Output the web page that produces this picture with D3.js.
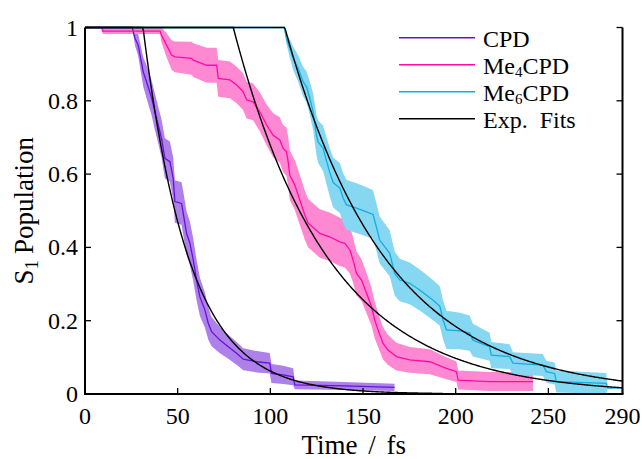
<!DOCTYPE html>
<html><head><meta charset="utf-8">
<script src="https://cdn.jsdelivr.net/npm/d3@7"></script>
<style>
body{margin:0;background:#fff}
svg text{font-family:"Liberation Serif","Times New Roman",serif;fill:#000}
</style>
</head><body>
<svg id="chart" width="642" height="459"></svg>
<script>
// ---------- data ----------
const xTicks = [0, 50, 100, 150, 200, 250, 290];
const yTicks = [0, 0.2, 0.4, 0.6, 0.8, 1];
const yTickLabels = ["0", "0.2", "0.4", "0.6", "0.8", "1"];
const seriesNames = ["CPD", "Me4CPD", "Me6CPD"];

const cpdTime = [0,25.5,27,28.7,31.4,33.2,36,37.7,39.5,41.3,43.1,45.8,47.6,48.5,52.1,53,54.8,56.6,58.4,60.2,62,64.7,66.5,68.3,72.8,77.3,81.8,85.4,92.6,99.7,100.6,106.9,112.3,113.2,140,167];
const cpdMean = [1,1,0.97,0.952,0.879,0.852,0.807,0.77,0.734,0.697,0.643,0.634,0.588,0.525,0.52,0.493,0.438,0.411,0.366,0.311,0.265,0.229,0.193,0.17,0.147,0.129,0.111,0.095,0.088,0.084,0.056,0.052,0.047,0.025,0.022,0.018];
const cpdErr  = [0,0,0.02,0.03,0.04,0.045,0.048,0.05,0.05,0.052,0.055,0.055,0.057,0.058,0.058,0.06,0.06,0.06,0.058,0.055,0.052,0.048,0.044,0.04,0.036,0.033,0.031,0.03,0.029,0.028,0.026,0.025,0.023,0.012,0.011,0.01];

const me4Time = [0,9,9.5,40.5,41.3,44,46.7,48.5,57.5,58.4,65.6,71,71.9,78.2,81.8,85.3,87.2,90.7,94.3,98,101.5,105.1,106.9,108.7,109.6,110.5,113.2,115,116.8,118.6,120.4,126.7,132,137.5,140.2,142.9,144.6,146.5,149.2,151.9,154.6,156.3,158.1,160.8,163.5,168,175.2,186,195,200.4,201.3,218.3,241.7];
const me4Mean = [1,1,0.99,0.99,0.979,0.952,0.925,0.92,0.916,0.911,0.897,0.897,0.861,0.857,0.843,0.825,0.802,0.797,0.77,0.734,0.706,0.693,0.67,0.661,0.634,0.597,0.57,0.543,0.516,0.488,0.466,0.438,0.429,0.415,0.411,0.393,0.366,0.329,0.311,0.275,0.238,0.202,0.175,0.138,0.12,0.102,0.093,0.088,0.07,0.061,0.038,0.034,0.034];
const me4Err  = [0,0,0.008,0.008,0.02,0.033,0.04,0.042,0.045,0.046,0.048,0.048,0.05,0.05,0.05,0.05,0.05,0.05,0.053,0.056,0.06,0.062,0.064,0.066,0.068,0.068,0.068,0.068,0.068,0.067,0.066,0.066,0.066,0.066,0.066,0.064,0.062,0.06,0.057,0.055,0.052,0.05,0.047,0.044,0.041,0.038,0.035,0.034,0.03,0.028,0.026,0.026,0.026];

const me6Time = [0,107.5,108.7,110.5,112.3,115,117.7,119.5,121.3,123.1,124.9,125.8,128.5,130.3,132.1,133.9,137.5,139.3,141.1,146.5,151.9,155.4,157.2,159,164.4,167.1,169.8,175.2,180.6,187.8,191.4,193.2,195,202.2,207.5,209.3,218.3,219.2,229.1,230.9,247,248.9,253.4,254.3,281.2,282.1,290];
const me6Mean = [1,1,0.97,0.943,0.916,0.888,0.852,0.838,0.807,0.77,0.706,0.688,0.67,0.636,0.604,0.577,0.562,0.534,0.516,0.507,0.497,0.49,0.456,0.42,0.384,0.329,0.311,0.302,0.284,0.256,0.24,0.202,0.175,0.172,0.166,0.147,0.129,0.106,0.102,0.084,0.079,0.061,0.056,0.034,0.029,0.016,0.016];
const me6Err  = [0,0,0.015,0.025,0.032,0.036,0.04,0.042,0.046,0.05,0.055,0.058,0.062,0.064,0.066,0.068,0.068,0.068,0.068,0.068,0.067,0.066,0.065,0.064,0.063,0.06,0.058,0.057,0.056,0.055,0.054,0.053,0.052,0.05,0.048,0.045,0.038,0.036,0.034,0.03,0.03,0.03,0.03,0.03,0.028,0,0];

// exponential fit parameters (onset / fs, time constant / fs, last time drawn / fs)
const fitOnset = [31.3, 80, 107.8];
const fitTau   = [24.8, 51.5, 54.5];
const fitEnd   = [193, 290, 290];

// ---------- style ----------
const lineColors = ["#6a10d6", "#ff0aa8", "#12aee0"];
const bandColors = ["#ae80ea", "#ff88d2", "#86d7f1"];

const svg = d3.select("#chart");
const x = d3.scaleLinear().domain([0, 290]).range([85, 622.5]);
const y = d3.scaleLinear().domain([0, 1]).range([394, 27.5]);

const series = [
  {t: cpdTime, m: cpdMean, e: cpdErr},
  {t: me4Time, m: me4Mean, e: me4Err},
  {t: me6Time, m: me6Mean, e: me6Err}
].map(s => s.t.map((t, i) => ({t, m: s.m[i], lo: Math.max(0, s.m[i] - s.e[i]), hi: Math.min(1, s.m[i] + s.e[i])})));

const area = d3.area().x(d => x(d.t)).y0(d => y(d.lo)).y1(d => y(d.hi));
const line = d3.line().x(d => x(d.t)).y(d => y(d.m));

series.forEach((s, i) => {
  svg.append("path").attr("d", area(s)).attr("fill", bandColors[i]).attr("stroke", "none");
});
series.forEach((s, i) => {
  svg.append("path").attr("d", line(s)).attr("fill", "none")
    .attr("stroke", lineColors[i]).attr("stroke-width", 1.3);
});
const fitLine = d3.line().x(d => x(d[0])).y(d => y(d[1]));
fitOnset.forEach((t0, i) => {
  const pts = d3.range(0, fitEnd[i] + 0.001, 0.5).map(t => [t, t < t0 ? 1 : Math.exp(-(t - t0) / fitTau[i])]);
  svg.append("path").attr("d", fitLine(pts)).attr("fill", "none")
    .attr("stroke", "#000").attr("stroke-width", 1.4);
});

// axes
const axG = svg.append("g");
axG.append("line").attr("x1", x(0)).attr("x2", x(0)).attr("y1", y(1)).attr("y2", y(0)).attr("stroke", "#000").attr("stroke-width", 2);
axG.append("line").attr("x1", x(290)).attr("x2", x(290)).attr("y1", y(1)).attr("y2", y(0)).attr("stroke", "#000").attr("stroke-width", 2);
axG.append("line").attr("x1", x(0) - 1).attr("x2", x(290) + 1).attr("y1", y(0)).attr("y2", y(0)).attr("stroke", "#000").attr("stroke-width", 2.2);

xTicks.forEach(v => {
  axG.append("line").attr("x1", x(v)).attr("x2", x(v)).attr("y1", y(0)).attr("y2", y(0) - 6).attr("stroke", "#000").attr("stroke-width", 1.3);
  axG.append("text").attr("x", x(v)).attr("y", 424).attr("text-anchor", "middle").attr("font-size", 24).text(v);
});
yTicks.forEach((v, i) => {
  axG.append("line").attr("x1", x(0)).attr("x2", x(0) + 6).attr("y1", y(v)).attr("y2", y(v)).attr("stroke", "#000").attr("stroke-width", 1.3);
  axG.append("line").attr("x1", x(290)).attr("x2", x(290) - 6).attr("y1", y(v)).attr("y2", y(v)).attr("stroke", "#000").attr("stroke-width", 1.3);
  axG.append("text").attr("x", 78).attr("y", y(v) + 8).attr("text-anchor", "end").attr("font-size", 24).text(yTickLabels[i]);
});

// axis titles
svg.append("text").attr("x", (x(0) + x(290)) / 2).attr("y", 454).attr("text-anchor", "middle")
  .attr("font-size", 27).attr("word-spacing", 4).text("Time / fs");
const yl = svg.append("text").attr("transform", `translate(33,${(y(0) + y(1)) / 2}) rotate(-90)`)
  .attr("text-anchor", "middle").attr("font-size", 27);
yl.append("tspan").text("S");
yl.append("tspan").attr("font-size", 19).attr("dy", 5).text("1");
yl.append("tspan").attr("dy", -5).attr("dx", 6).text("Population");

// legend
const legLabels = [["CPD", null, null], ["Me", "4", "CPD"], ["Me", "6", "CPD"], ["Exp.\u00A0 Fits", null, null]];
const legColors = [lineColors[0], lineColors[1], lineColors[2], "#000"];
legLabels.forEach((lab, i) => {
  const ly = 37.7 + i * 27;
  svg.append("line").attr("x1", 399).attr("x2", 475).attr("y1", ly).attr("y2", ly)
    .attr("stroke", legColors[i]).attr("stroke-width", 1.4);
  const t = svg.append("text").attr("x", 483).attr("y", ly + 9).attr("font-size", 24);
  t.append("tspan").text(lab[0]);
  if (lab[1]) {
    t.append("tspan").attr("font-size", 15).attr("dy", 3).text(lab[1]);
    t.append("tspan").attr("dy", -3).text(lab[2]);
  }
});
</script>
</body></html>
